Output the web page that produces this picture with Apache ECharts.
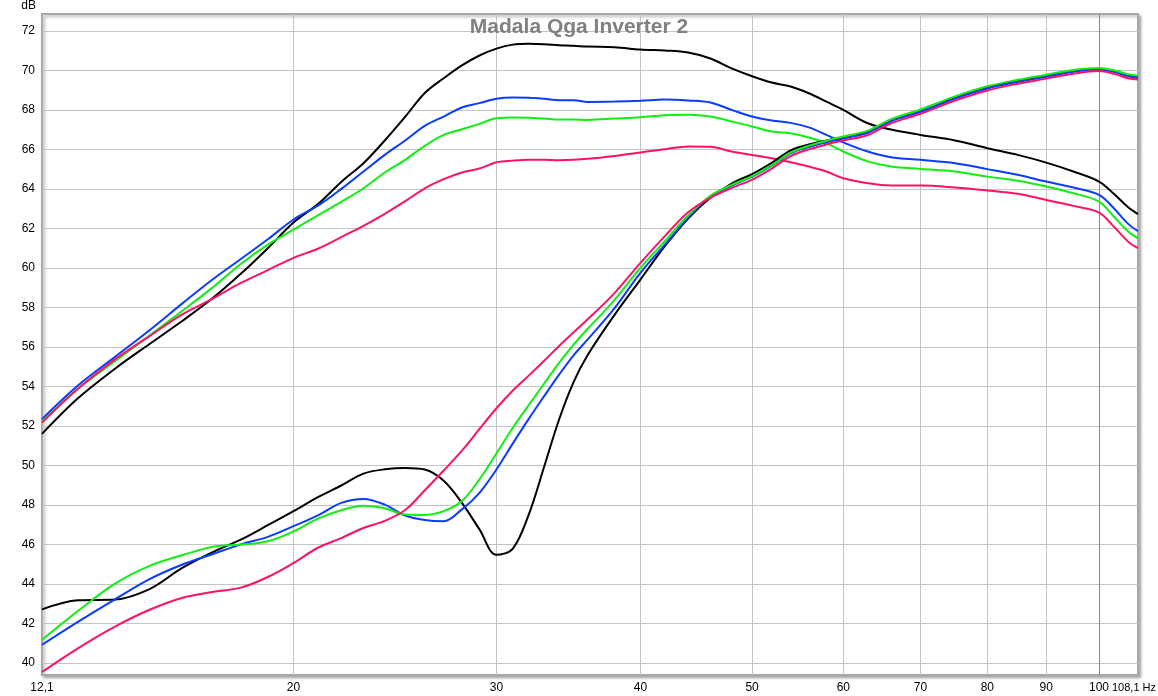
<!DOCTYPE html>
<html>
<head>
<meta charset="utf-8">
<script src="https://cdn.jsdelivr.net/npm/echarts@6/dist/echarts.min.js"></script>
<style>
html,body{margin:0;padding:0;background:#fff;}
#c{width:1158px;height:696px;}
</style>
</head>
<body>
<div id="c"></div>
<script>
// Frequencies (Hz)
var freq = [12.1, 13, 14, 15, 16, 17, 18, 19, 20, 21, 22, 23, 24, 25, 26, 27, 28, 29, 30, 31, 32, 33, 34, 35, 36, 38, 40, 42, 44, 46, 48, 50, 52, 54, 56, 58, 60, 63, 66, 70, 75, 80, 85, 90, 95, 100, 103, 106, 108.1];

// Upper curves (dB)
var upperBlack = [51.6, 53.4, 54.9, 56.15, 57.3, 58.45, 59.7, 61.0, 62.3, 63.23, 64.35, 65.3, 66.45, 67.65, 68.85, 69.6, 70.25, 70.75, 71.1, 71.3, 71.34, 71.32, 71.27, 71.24, 71.2, 71.17, 71.05, 71.0, 70.9, 70.6, 70.1, 69.7, 69.38, 69.18, 68.84, 68.42, 68.0, 67.32, 67.0, 66.73, 66.45, 66.06, 65.72, 65.33, 64.88, 64.37, 63.75, 63.07, 62.72];
var upperBlue = [52.35, 54.05, 55.5, 56.85, 58.18, 59.4, 60.45, 61.45, 62.45, 63.15, 64.0, 64.88, 65.72, 66.45, 67.19, 67.66, 68.12, 68.34, 68.56, 68.62, 68.61, 68.56, 68.49, 68.49, 68.4, 68.42, 68.46, 68.52, 68.47, 68.37, 68.0, 67.66, 67.46, 67.34, 67.11, 66.73, 66.35, 65.89, 65.6, 65.47, 65.3, 65.0, 64.71, 64.37, 64.07, 63.7, 63.02, 62.23, 61.86];
var upperGreen = [52.22, 53.88, 55.28, 56.58, 57.81, 58.99, 60.2, 61.18, 61.94, 62.66, 63.34, 64.03, 64.83, 65.47, 66.18, 66.73, 67.02, 67.29, 67.58, 67.61, 67.6, 67.56, 67.51, 67.51, 67.49, 67.56, 67.63, 67.73, 67.75, 67.66, 67.41, 67.16, 66.9, 66.82, 66.6, 66.31, 65.89, 65.39, 65.13, 65.01, 64.88, 64.62, 64.41, 64.12, 63.78, 63.36, 62.6, 61.84, 61.5];
var upperRed = [52.17, 53.88, 55.37, 56.55, 57.64, 58.43, 59.24, 59.89, 60.51, 60.97, 61.56, 62.13, 62.74, 63.38, 64.03, 64.49, 64.83, 65.03, 65.35, 65.43, 65.47, 65.47, 65.45, 65.47, 65.52, 65.67, 65.84, 66.01, 66.15, 66.13, 65.89, 65.72, 65.55, 65.35, 65.13, 64.88, 64.54, 64.29, 64.17, 64.17, 64.07, 63.92, 63.75, 63.44, 63.14, 62.8, 62.09, 61.33, 61.0];

// Lower curves (dB)
var lowerBlack = [42.72, 43.18, 43.22, 43.75, 44.81, 45.61, 46.25, 46.98, 47.69, 48.4, 48.99, 49.59, 49.81, 49.88, 49.8, 49.23, 48.11, 46.77, 45.48, 45.8, 47.52, 49.94, 52.33, 54.22, 55.59, 57.64, 59.41, 61.1, 62.5, 63.55, 64.27, 64.75, 65.32, 65.95, 66.25, 66.45, 66.6, 66.88, 67.44, 67.92, 68.6, 69.12, 69.45, 69.7, 69.95, 70.07, 69.95, 69.73, 69.66];
var lowerBlue = [40.93, 42.09, 43.23, 44.25, 44.98, 45.51, 46.01, 46.39, 46.93, 47.48, 48.11, 48.31, 48.02, 47.47, 47.24, 47.18, 47.78, 48.62, 49.8, 51.12, 52.36, 53.51, 54.6, 55.58, 56.38, 57.98, 59.75, 61.18, 62.55, 63.6, 64.17, 64.62, 65.18, 65.8, 66.12, 66.36, 66.55, 66.84, 67.43, 67.9, 68.57, 69.08, 69.41, 69.68, 69.93, 70.05, 69.93, 69.7, 69.63];
var lowerGreen = [41.18, 42.64, 44.02, 44.92, 45.46, 45.88, 46.0, 46.17, 46.67, 47.31, 47.74, 47.97, 47.84, 47.52, 47.5, 47.69, 48.2, 49.3, 50.61, 51.91, 53.06, 54.15, 55.2, 56.12, 56.92, 58.4, 60.0, 61.35, 62.65, 63.65, 64.2, 64.65, 65.2, 65.83, 66.18, 66.44, 66.65, 66.95, 67.53, 68.02, 68.68, 69.19, 69.52, 69.78, 70.02, 70.12, 70.0, 69.8, 69.73];
var lowerRed = [39.55, 40.75, 41.85, 42.7, 43.3, 43.6, 43.82, 44.36, 45.07, 45.84, 46.33, 46.84, 47.2, 47.75, 48.75, 49.75, 50.75, 51.85, 52.9, 53.8, 54.55, 55.3, 56.05, 56.75, 57.4, 58.74, 60.26, 61.61, 62.82, 63.55, 64.05, 64.47, 65.03, 65.66, 66.0, 66.25, 66.45, 66.73, 67.32, 67.8, 68.47, 68.98, 69.32, 69.58, 69.83, 69.96, 69.83, 69.6, 69.53];

// Axis ticks
var xGridTicks = [20, 30, 40, 50, 60, 70, 80, 90, 100];
var xLabelTicks = [12.1, 20, 30, 40, 50, 60, 70, 80, 90, 100, 108.1];
var yTicks = [40, 42, 44, 46, 48, 50, 52, 54, 56, 58, 60, 62, 64, 66, 68, 70, 72];

var title = 'Madala Qga Inverter 2';

function pairs(vals) {
  return freq.map(function (f, i) { return [f, vals[i]]; });
}

var curves = [
  { data: upperBlack, color: '#000000' },
  { data: upperBlue, color: '#0a3cff' },
  { data: upperGreen, color: '#12ee12' },
  { data: upperRed, color: '#ff1166' },
  { data: lowerBlack, color: '#000000' },
  { data: lowerBlue, color: '#0a3cff' },
  { data: lowerGreen, color: '#12ee12' },
  { data: lowerRed, color: '#ff1166' }
];

var series = curves.map(function (c, i) {
  var s = {
    type: 'line',
    data: pairs(c.data),
    showSymbol: false,
    smooth: 0.35,
    silent: true,
    lineStyle: { color: c.color, width: 2 },
    itemStyle: { color: c.color },
    z: 3
  };
  if (i === 0) {
    s.markLine = {
      silent: true,
      symbol: 'none',
      label: { show: false },
      lineStyle: { color: '#8a8a8a', width: 1, type: 'solid' },
      data: [{ xAxis: 100 }],
      z: 1
    };
  }
  return s;
});

var font = 'Liberation Sans, Arial, sans-serif';
// keep the end labels just inside the axis extent (floating point of the log scale)
var xLabelValues = xLabelTicks.map(function (v) {
  if (v === 12.1) return 12.1001;
  if (v === 108.1) return 108.0999;
  return v;
});

var chart = echarts.init(document.getElementById('c'), null, { renderer: 'canvas' });
chart.setOption({
  animation: false,
  backgroundColor: '#ffffff',
  title: {
    text: title,
    left: 'center',
    top: 12,
    textStyle: { color: '#808080', fontSize: 21, fontWeight: 'bold', fontFamily: font }
  },
  grid: {
    left: 42, right: 20, top: 14, bottom: 21,
    outerBoundsMode: 'none',
    containLabel: false,
    show: true,
    backgroundColor: '#ffffff',
    borderColor: '#a8a8a8',
    borderWidth: 2,
    shadowColor: 'rgba(0,0,0,0.3)',
    shadowBlur: 3,
    shadowOffsetX: 2,
    shadowOffsetY: 2
  },
  xAxis: {
    type: 'log',
    logBase: 10,
    min: 12.1,
    max: 108.1,
    axisLine: { show: false },
    axisTick: { show: false, customValues: xGridTicks },
    splitLine: { show: true, lineStyle: { color: '#c4c4c4', width: 1 } },
    minorTick: { show: false },
    minorSplitLine: { show: false },
    axisLabel: {
      customValues: xLabelValues,
      margin: 7,
      color: '#000',
      fontSize: 12,
      fontFamily: font,
      hideOverlap: false,
      showMinLabel: true,
      showMaxLabel: true,
      formatter: function (v) {
        if (Math.abs(v - 12.1) < 0.01) return '12,1';
        if (Math.abs(v - 108.1) < 0.01) return '{e|108,1 Hz}';
        return String(Math.round(v));
      },
      rich: {
        e: { fontSize: 11, fontFamily: font, color: '#000', padding: [0, 8, 0, 0] }
      }
    }
  },
  yAxis: {
    type: 'value',
    min: 39.4,
    max: 72.85,
    name: 'dB',
    nameLocation: 'end',
    nameGap: 2,
    nameTextStyle: { color: '#000', fontSize: 12, fontFamily: font, align: 'right', padding: [0, 6, 0, 0] },
    axisLine: { show: false },
    axisTick: { show: false, customValues: yTicks },
    splitLine: { show: true, lineStyle: { color: '#c4c4c4', width: 1 } },
    axisLabel: { customValues: yTicks, margin: 7, color: '#000', fontSize: 12, fontFamily: font }
  },
  series: series
});
</script>
</body>
</html>
